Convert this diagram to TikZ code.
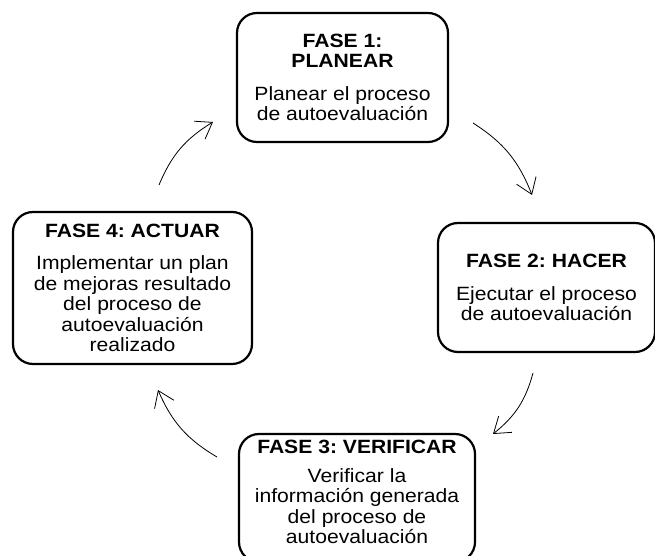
\documentclass[tikz,border=0pt]{standalone}
\usepackage{fontspec}
\setmainfont{Liberation Sans}[FakeStretch=1.1]
\usetikzlibrary{arrows.meta}

\tikzset{
  fase/.style={draw, line width=2.2pt, rounded corners=20pt, align=center,
    inner sep=0pt, font=\fontsize{19.2}{20.5}\selectfont\frenchspacing},
  ciclo/.style={-{Straight Barb[length=15pt,width=21pt]}, line width=0.8pt, bend left=18},
}

\begin{document}
\begin{tikzpicture}[x=1pt,y=1pt]
   \useasboundingbox (0,0) rectangle (655,556);

   \node[fase, minimum width=211pt, minimum height=129pt] (plan) at (342.5,478.5)
      {\textbf{FASE 1:}\\\textbf{PLANEAR}\\[12pt]Planear el proceso\\de autoevaluación};
   \node[fase, minimum width=217pt, minimum height=129pt] (hacer) at (546.5,268.5)
      {\textbf{FASE 2: HACER}\\[12pt]Ejecutar el proceso\\de autoevaluación};
   \node[fase, minimum width=236pt, minimum height=128pt] (verif) at (357,58)
      {\textbf{FASE 3: VERIFICAR}\\[8pt]Verificar la\\información generada\\del proceso de\\autoevaluación\\[-9pt]\mbox{}};
   \node[fase, minimum width=239pt, minimum height=152pt] (actuar) at (132.5,268)
      {\textbf{FASE 4: ACTUAR}\\[12pt]Implementar un plan\\de mejoras resultado\\del proceso de\\autoevaluación\\realizado};

   % extremos de las flechas
   \coordinate (a1) at (473,433);
   \coordinate (a2) at (532,361);
   \coordinate (b1) at (533,183);
   \coordinate (b2) at (493,122);
   \coordinate (c1) at (217,99);
   \coordinate (c2) at (158,166);
   \coordinate (d1) at (159,371);
   \coordinate (d2) at (213,434);

   \draw[ciclo] (a1) to (a2);
   \draw[ciclo] (b1) to (b2);
   \draw[ciclo] (c1) to (c2);
   \draw[ciclo] (d1) to (d2);
\end{tikzpicture}
\end{document}
